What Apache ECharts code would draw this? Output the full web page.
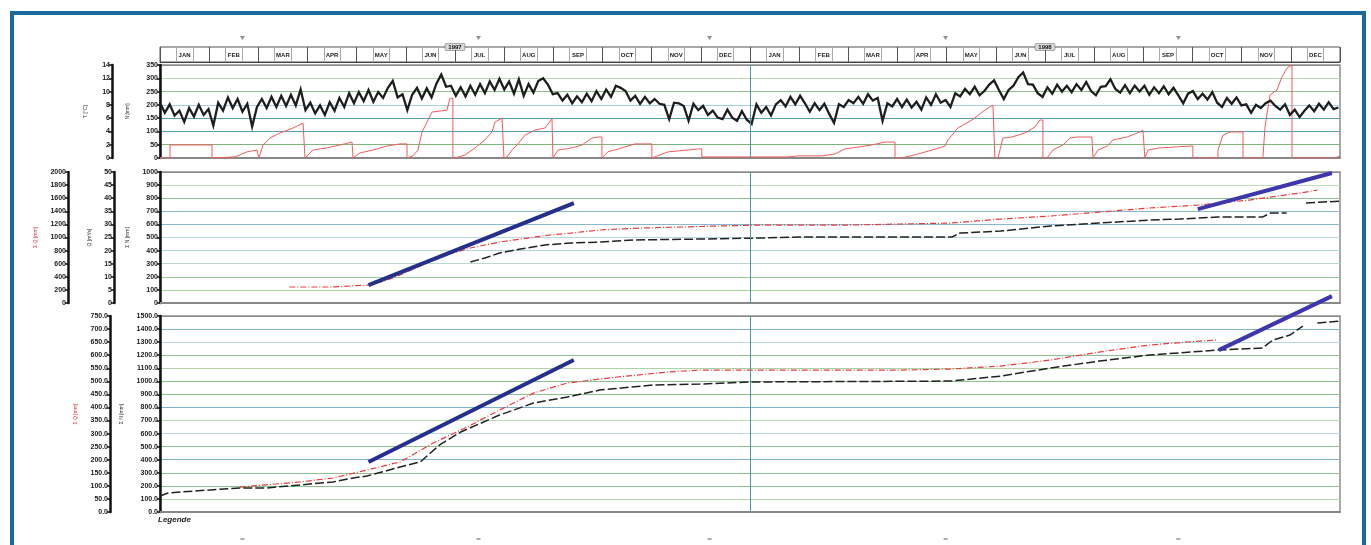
<!DOCTYPE html>
<html><head><meta charset="utf-8">
<script src="https://cdn.jsdelivr.net/npm/echarts@6/dist/echarts.min.js"></script>
<style>
html,body{margin:0;padding:0;background:#fff;overflow:hidden;}
#c{position:absolute;left:0;top:0;width:1371px;height:545px;}
#frame{position:absolute;left:10px;top:11px;width:1348px;height:600px;border:4px solid #1b6a9e;pointer-events:none;}
</style></head><body>
<div id="c"></div><div id="frame"></div>
<script>
// ---------------- DATA ----------------
const monthLabels = ['JAN','FEB','MAR','APR','MAY','JUN','JUL','AUG','SEP','OCT','NOV','DEC',
                     'JAN','FEB','MAR','APR','MAY','JUN','JUL','AUG','SEP','OCT','NOV','DEC'];
const yearLabels = ['1997','1998'];
const markerDays = [51, 197, 340, 486, 630];
const yearSplitDay = 365;

// top panel: noisy black series, one reading every 3 days
const levelStepDays = 3;
const level = [
 208,170,202,160,178,136,188,156,200,162,
 184,122,208,178,228,188,222,174,204,118,
 192,222,188,230,192,234,196,238,198,258,
 180,208,168,198,162,210,178,226,192,244,
 206,248,214,256,212,248,226,264,290,228,
 240,180,238,264,224,262,228,280,314,268,
 272,234,266,232,272,238,278,244,288,256,
 298,258,288,242,296,234,278,246,290,300,
 276,240,244,216,238,206,232,210,242,214,
 252,222,258,230,272,264,252,216,234,204,
 230,206,222,204,200,146,208,206,196,140,
 204,180,196,162,178,152,146,182,152,140,
 176,144,128,202,170,192,160,202,218,194,
 230,202,234,206,174,206,180,204,166,132,
 202,192,218,206,230,204,240,216,226,140,
 206,194,222,192,220,190,212,182,228,200,
 240,208,218,192,244,232,260,240,268,236,
 252,276,292,256,222,256,272,304,322,278,
 276,244,230,266,242,276,250,272,248,278,
 256,286,252,236,268,270,296,260,246,274,
 244,272,250,272,238,266,244,270,240,264,
 236,206,242,252,222,242,220,248,208,192,
 226,204,228,198,202,170,200,188,206,216,
 196,182,202,162,182,154,178,198,176,204,
 182,210,184,190
];

// top panel: red step series [day, value]
const redStep = [
 [0,0],[6.2,0],[6.2,49],[32.2,49],[32.2,0],[46.4,4],[53.8,23],[60,30],[61.2,0],[63.7,49],[68,75],[74.2,94],[82.3,113],[88.5,131],[89.7,131],[89.7,0],
 [94.6,30],[103.3,38],[111.3,49],[118.8,60],[119.4,0],
 [123.7,19],[131.8,30],[140.4,45],[148.5,53],[152.8,53],[152.8,0],
 [156.5,8],[159.6,30],[162.1,98],[165.2,135],[168.3,173],[177.5,180],[179.4,225],[181.2,225],[181.2,0],
 [182.5,0],[188.7,11],[194.9,38],[201,68],[205.4,98],[207.2,135],[211.6,150],[212.8,150],[212.8,0],
 [214.7,4],[217.7,30],[221.5,53],[225.8,86],[232,105],[238.2,113],[242.5,147],[243.1,147],[243.1,0],
 [246.2,30],[254.9,38],[261.1,49],[267.2,75],[271,79],[273.4,79],[273.4,0],
 [277.1,23],[285.8,38],[293.8,53],[301.9,53],[304.3,53],[304.3,0],
 [314.3,23],[326.6,30],[332.8,34],[335.2,34],[335.2,4],[365,4],
 [365,0],[388.5,4],[394.7,8],[403.3,8],[409.5,8],[417.6,15],[423.7,34],[431.8,41],[440.4,49],[448.5,60],[454.7,60],[454.7,0],
 [459,0],[468.9,15],[477.6,30],[485.6,45],[487.5,68],[493.6,113],[502.3,143],[510.3,180],[515.3,199],[516.5,199],[516.5,0],
 [518.4,0],[521.5,75],[527,79],[535.1,94],[541.3,117],[544.4,143],[546.2,143],[546.2,0],
 [548.7,0],[552.4,30],[558.6,49],[562.9,75],[567.3,79],[576.5,79],[577.2,79],[577.2,0],
 [580.2,30],[586.1,45],[589.5,68],[598.2,79],[606.2,98],[608.1,105],[609.3,105],[609.3,0],
 [611.2,30],[618.6,38],[626.6,41],[637.2,45],[639,45],[639,0],
 [654.5,0],[654.5,30],[657.6,86],[661.9,98],[668.1,98],[670,98],[670,0],
 [682.3,0],[683.6,117],[686.7,237],[691,256],[694.1,305],[697.2,338],[699,346],[700.3,346],[700.3,0],
 [726.8,0],[730,8]
];

// middle panel
const p2Red = [[80,122],[105,122],[129,137],[139,168],[148.5,214],[158,267],[167,320],[179,374],[192,420],[210,465],[223,488],[241,519],[254,534],[272,557],[297,572],[322,580],[346,588],[371,595],[396,595],[427,595],[458,603],[489,610],[520,641],[551,664],[581,694],[612,725],[643,748],[674,786],[705,839],[716,862]];
const p2BlackA = [[192,313],[201,343],[210,382],[223,412],[238,443],[254,458],[272,465],[293,481],[334,488],[371,496],[396,504],[427,504],[490,504],[495,534],[520,549],[551,588],[581,610],[612,633],[631,641],[654,656],[682,656],[687,687],[697,687]];
const p2BlackB = [[709,763],[730,778]];
const p2TrendA = [[129,137],[256,763]];
const p2TrendB = [[642,717],[725,992]];

// bottom panel
const p3Red = [[49.5,191],[86.6,230],[107,260],[128,321],[148.5,383],[169,528],[190,650],[210,780],[231,910],[252,987],[283,1033],[314,1071],[334,1086],[396,1086],[458,1086],[489,1094],[520,1117],[551,1163],[581,1224],[612,1278],[643,1308],[654,1316]];
const p3BlackA = [[0,122],[4.9,145],[12.4,153],[49.5,184],[66,184],[86.6,207],[107,230],[119.4,260],[128,275],[148.5,344],[161,383],[173,513],[186,612],[210,742],[231,834],[252,880],[272,933],[305,972],[334,979],[365,995],[489,1002],[520,1040],[551,1102],[581,1155],[612,1201],[654,1239],[682,1255],[688.5,1316],[699,1354],[707,1423]];
const p3BlackB = [[716,1446],[730,1461]];
const p3TrendA = [[129,383],[256,1163]];
const p3TrendB = [[655,1239],[725,1652]];

// axis tick values
const p1InnerTicks = [0,50,100,150,200,250,300,350];
const p1OuterTicks = [0,2,4,6,8,10,12,14];
const p2InnerTicks = [0,100,200,300,400,500,600,700,800,900,1000];
const p2MidTicks = [0,5,10,15,20,25,30,35,40,45,50];
const p2OuterTicks = [0,200,400,600,800,1000,1200,1400,1600,1800,2000];
const p3InnerTicks = [0,100,200,300,400,500,600,700,800,900,1000,1100,1200,1300,1400,1500];
const p3OuterTicks = [0,50,100,150,200,250,300,350,400,450,500,550,600,650,700,750];

// ---------------- STYLE / OPTION ----------------
const FONT = 'Liberation Sans';
const p1Split = ['#8c8c8c','#7fb27f','#5aa0b4','#5aa0b4','#a8cde0','#8cc08c','#b8d8b0','#8c8c8c'];
const p2Split = ['#8c8c8c','#a8d0a0','#9cc89c','#b8d8d0','#b0d4dc','#b8d8e4','#8ab8d0','#8ab8d0','#8cc08c','#c0dcb8','#8c8c8c'];
const p3Split = ['#8c8c8c','#b0d4a8','#8cc08c','#8cc08c','#7fb0cc','#8cc08c','#b8d8e8','#b8dcb0','#7fb0cc','#8cc08c','#8cc08c','#b0d4a8','#8cc08c','#b8d8e8','#7fb0cc','#8c8c8c'];

function leftAxis(gridIndex, ticks, offset, decimals, split, name, nameGap, nameColor){
  return {
    type:'value', gridIndex, position:'left', offset,
    min:ticks[0], max:ticks[ticks.length-1], interval:ticks[1]-ticks[0],
    axisLine:{show:true, onZero:false, lineStyle:{color:'#111', width:2.5}},
    axisTick:{show:true, length:3, lineStyle:{color:'#111', width:1.5}},
    axisLabel:{fontSize:7, fontWeight:'bold', color:'#1a1a1a', fontFamily:FONT, margin:2,
      formatter:v => v.toFixed(decimals)},
    splitLine: split ? {show:true, showMinLine:true, showMaxLine:true, lineStyle:{color:split, width:1.2}} : {show:false},
    name, nameLocation:'middle', nameRotate:90, nameGap,
    nameTextStyle:{fontSize:5, color:nameColor, fontFamily:FONT}
  };
}
function panelX(gridIndex){
  return {type:'value', gridIndex, min:0, max:730, axisLabel:{show:false}, axisTick:{show:false},
    splitLine:{show:false}, axisLine:{show:true, onZero:false, lineStyle:{color:'#888', width:2}}};
}
const divider = {silent:true, symbol:'none', label:{show:false},
  lineStyle:{color:'#4a9a9a', width:1, type:'solid'}, data:[{xAxis:yearSplitDay}]};
const panelGrid = (top, height) => ({left:160, right:31, top, height, show:true,
  backgroundColor:'#fff', borderColor:'#8c8c8c', borderWidth:1.5});

const option = {
  animation:false,
  backgroundColor:'#fff',
  grid:[
    {left:160, right:31, top:47, height:15, show:true, borderColor:'#555', borderWidth:1},
    {left:160, right:31, top:34, height:8},
    panelGrid(65, 93),
    panelGrid(172, 131),
    panelGrid(316, 196),
    {left:160, right:31, top:536, height:6}
  ],
  xAxis:[
    {type:'category', gridIndex:0, position:'bottom', data:Array.from({length:72}, () => ''),
      axisLine:{show:false}, axisTick:{show:false}, axisLabel:{show:false, interval:0},
      splitLine:{show:true, interval:0, lineStyle:{color:'#aaa', width:1}}},
    {type:'category', gridIndex:0, position:'bottom', data:monthLabels,
      axisLine:{show:true, lineStyle:{color:'#444', width:1}}, axisTick:{show:false},
      axisLabel:{inside:true, interval:0, margin:4, fontSize:6, fontWeight:'bold', color:'#222', fontFamily:FONT},
      splitLine:{show:true, interval:0, lineStyle:{color:'#555', width:1}}},
    {type:'category', gridIndex:0, position:'top', data:yearLabels,
      axisLine:{show:false}, axisTick:{show:false},
      axisLabel:{margin:-3, fontSize:6, fontWeight:'bold', color:'#111', fontFamily:FONT,
        backgroundColor:'#d8d8d8', borderColor:'#555', borderWidth:0.5, padding:[0,3]}},
    {type:'value', gridIndex:1, min:0, max:730, show:false},
    panelX(2), panelX(3), panelX(4),
    {type:'value', gridIndex:5, min:0, max:730, show:false}
  ],
  yAxis:[
    {type:'value', gridIndex:0, show:false, min:0, max:1},
    {type:'value', gridIndex:1, show:false, min:-1, max:1},
    leftAxis(2, p1InnerTicks, 0, 0, p1Split, 'N [mm]', 30, '#333'),
    leftAxis(2, p1OuterTicks, 48, 0, null, 'T [°C]', 24, '#333'),
    leftAxis(3, p2InnerTicks, 0, 0, p2Split, 'Σ N [mm]', 30, '#333'),
    leftAxis(3, p2MidTicks, 46, 0, null, 'Q [m³/s]', 22, '#333'),
    leftAxis(3, p2OuterTicks, 92, 0, null, 'Σ Q [mm]', 30, '#d33'),
    leftAxis(4, p3InnerTicks, 0, 1, p3Split, 'Σ N [mm]', 36, '#333'),
    leftAxis(4, p3OuterTicks, 50, 1, null, 'Σ Q [mm]', 32, '#d33'),
    {type:'value', gridIndex:5, show:false, min:-1, max:1}
  ],
  series:[
    {type:'scatter', xAxisIndex:3, yAxisIndex:1, symbol:'triangle', symbolRotate:180, symbolSize:[5,4],
      itemStyle:{color:'#777'}, data:markerDays.map(d => [d, 0]), silent:true},
    {type:'scatter', xAxisIndex:7, yAxisIndex:9, symbol:'rect', symbolSize:[4,2],
      itemStyle:{color:'#999'}, data:markerDays.map(d => [d, 0]), silent:true},
    // top panel
    {type:'line', xAxisIndex:4, yAxisIndex:2, showSymbol:false, silent:true,
      lineStyle:{color:'#f25c5c', width:1}, data:redStep, markLine:divider},
    {type:'line', xAxisIndex:4, yAxisIndex:2, showSymbol:false, silent:true,
      lineStyle:{color:'#1e1e1e', width:2.3, join:'miter'}, data:level.map((v,i) => [i*levelStepDays, v])},
    // middle panel
    {type:'line', xAxisIndex:5, yAxisIndex:4, showSymbol:false, silent:true,
      lineStyle:{color:'#e83c3c', width:1.2, type:[6,2,1,2]}, data:p2Red, markLine:divider},
    {type:'line', xAxisIndex:5, yAxisIndex:4, showSymbol:false, silent:true,
      lineStyle:{color:'#222', width:1.5, type:[9,3]}, data:p2BlackA},
    {type:'line', xAxisIndex:5, yAxisIndex:4, showSymbol:false, silent:true,
      lineStyle:{color:'#222', width:1.5, type:[9,3]}, data:p2BlackB},
    {type:'line', xAxisIndex:5, yAxisIndex:4, showSymbol:false, silent:true, clip:false,
      lineStyle:{color:'#25308c', width:4}, data:p2TrendA},
    {type:'line', xAxisIndex:5, yAxisIndex:4, showSymbol:false, silent:true, clip:false,
      lineStyle:{color:'#3d36ad', width:4}, data:p2TrendB},
    // bottom panel
    {type:'line', xAxisIndex:6, yAxisIndex:7, showSymbol:false, silent:true,
      lineStyle:{color:'#e83c3c', width:1.2, type:[6,2,1,2]}, data:p3Red, markLine:divider},
    {type:'line', xAxisIndex:6, yAxisIndex:7, showSymbol:false, silent:true,
      lineStyle:{color:'#222', width:1.5, type:[9,3]}, data:p3BlackA},
    {type:'line', xAxisIndex:6, yAxisIndex:7, showSymbol:false, silent:true,
      lineStyle:{color:'#222', width:1.5, type:[9,3]}, data:p3BlackB},
    {type:'line', xAxisIndex:6, yAxisIndex:7, showSymbol:false, silent:true, clip:false,
      lineStyle:{color:'#25308c', width:4}, data:p3TrendA},
    {type:'line', xAxisIndex:6, yAxisIndex:7, showSymbol:false, silent:true, clip:false,
      lineStyle:{color:'#3d36ad', width:4}, data:p3TrendB}
  ],
  graphic:[
    {type:'text', left:158, top:516, style:{text:'Legende', fontSize:8, fontWeight:'bold', fontStyle:'italic', fill:'#222', fontFamily:FONT}}
  ]
};
const chart = echarts.init(document.getElementById('c'), null, {renderer:'canvas'});
chart.setOption(option);
</script></body></html>
